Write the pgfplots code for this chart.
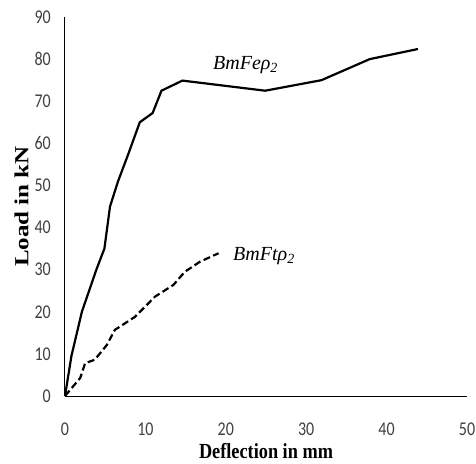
\documentclass[border=0pt]{standalone}
\usepackage{fontspec}
\setmainfont{Liberation Serif}
\newfontfamily\tickfont[FakeStretch=0.82]{Carlito}
\newfontfamily\labfont[FakeStretch=0.85]{Liberation Serif}
\usepackage{graphicx}
\usepackage{pgfplots}
\pgfplotsset{compat=1.18}
\begin{document}
\begin{tikzpicture}
\begin{axis}[
  at={(0pt,0pt)}, anchor=south west,
  scale only axis, width=402pt, height=379pt,
  xmin=0, xmax=50, ymin=0, ymax=90,
  xtick={0,10,...,50}, ytick={0,10,...,90},
  axis x line*=bottom, axis y line*=left,
  axis line style={-, line width=1pt, black},
  major tick length=0pt,
  /pgf/number format/assume math mode=true,
  ticklabel style={font=\tickfont\fontsize{19.5}{19.5}\selectfont, text=black!75},
  xticklabel style={anchor=north, inner sep=0pt, yshift=-27pt},
  yticklabel style={anchor=east, inner sep=0pt, xshift=-14pt},
  xlabel={Deflection in mm},
  ylabel={\scalebox{1.25}[1]{Load in kN}},
  every axis x label/.style={at={(axis description cs:0.5,0)}, anchor=base, inner sep=0pt, yshift=-62pt, font=\labfont\bfseries\fontsize{21.5}{21.5}\selectfont},
  every axis y label/.style={at={(axis description cs:0,0.5)}, xshift=-43.5pt, rotate=90, anchor=center, inner sep=0pt, font=\bfseries\fontsize{20}{20}\selectfont},
  clip=false,
]
\addplot[black, line width=2.2pt] coordinates {
(0,0) (0.8,9.5) (2.1,20) (3.9,30) (4.9,35) (5.6,45) (6.6,51) (7.9,57.6)
(9.3,65) (10.9,67.2) (12,72.5) (14.6,74.9) (24.9,72.5) (31.9,75) (37.9,80) (43.9,82.4)
};
\addplot[black, line width=2.2pt, dash pattern=on 7pt off 3.5pt] coordinates {
(0,0) (1.9,4.3) (2.5,7.8) (3.7,8.6) (5.2,12.1) (6.2,15.7) (8.7,18.8) (11.2,23.6)
(13.5,26.4) (14.9,29.5) (16.8,31.9) (19.1,33.9)
};
\node[anchor=base west, inner sep=0pt, font=\fontsize{20}{20}\selectfont\itshape] at (axis cs:18.4,77.6) {BmFeρ\textsubscript{2}};
\node[anchor=base west, inner sep=0pt, font=\fontsize{20}{20}\selectfont\itshape] at (axis cs:20.9,32.1) {BmFtρ\textsubscript{2}};
\end{axis}
\pgfresetboundingbox
\path[use as bounding box] (-65pt,-67pt) rectangle (411pt,396pt);
\end{tikzpicture}
\end{document}
